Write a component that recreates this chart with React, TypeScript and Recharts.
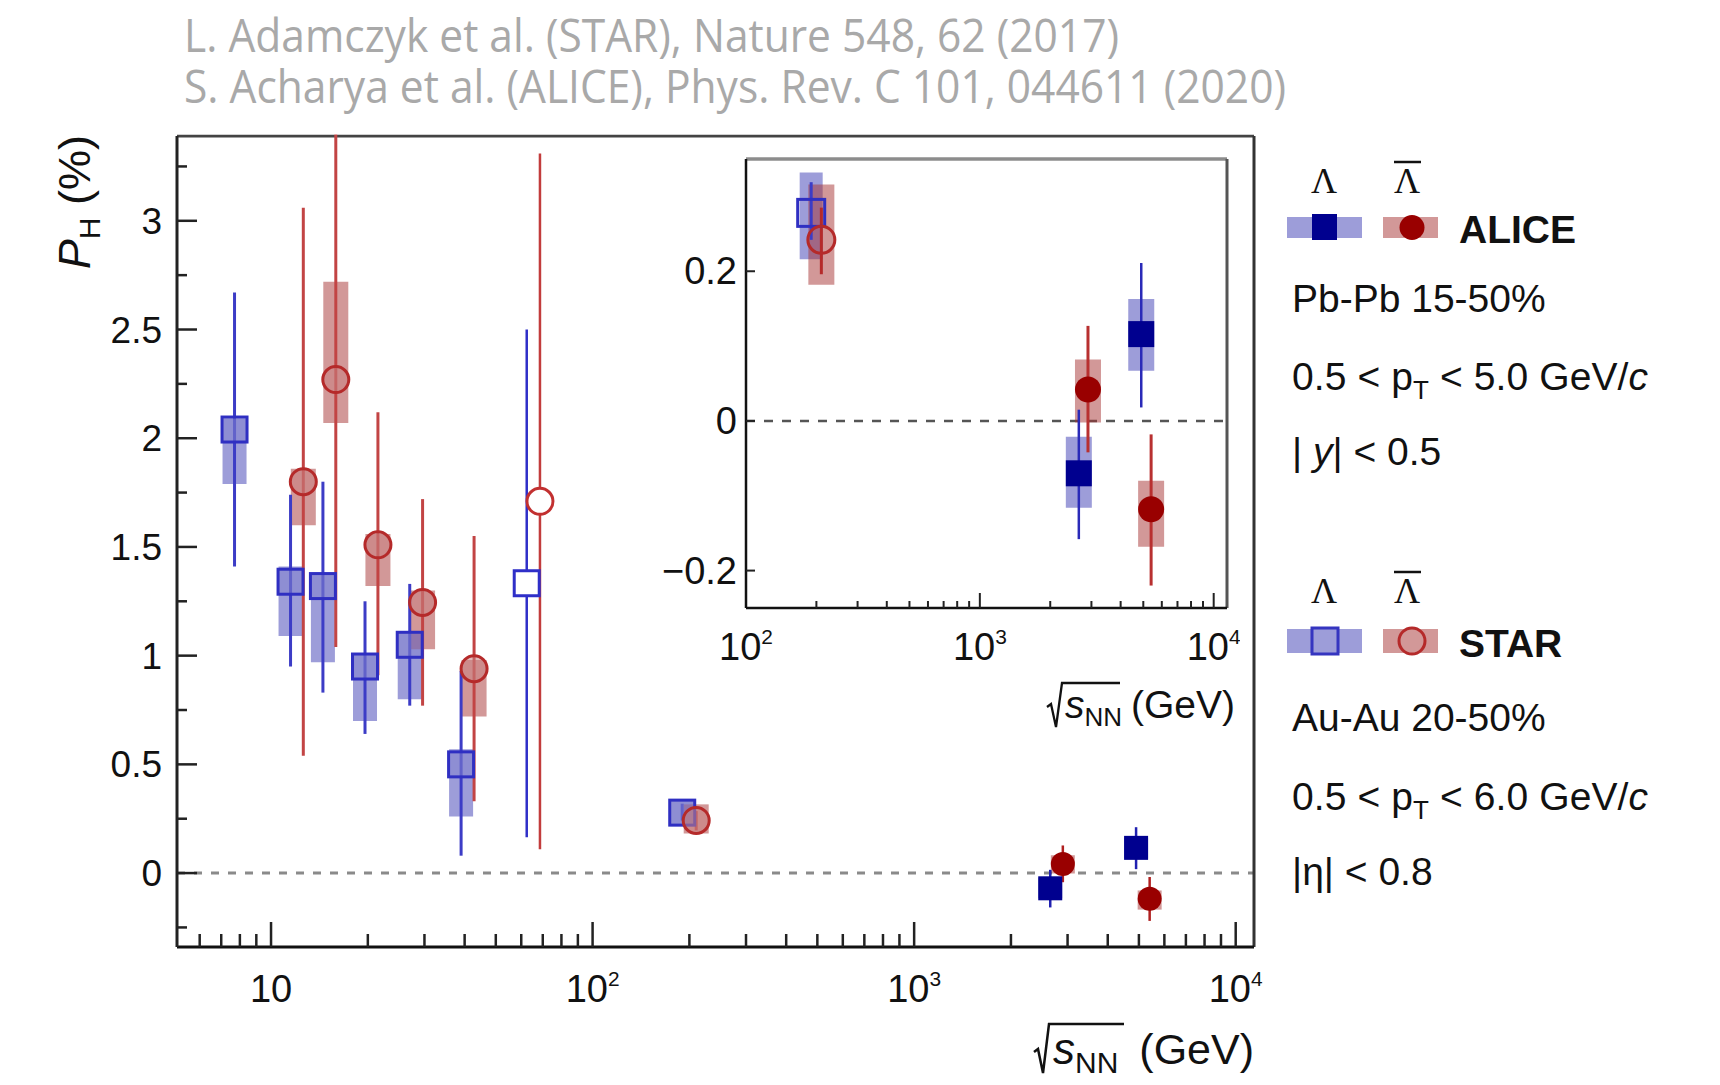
import React from 'react';
import { ScatterChart, Scatter, XAxis, YAxis, ErrorBar, ReferenceLine } from 'recharts';

// STAR, Au-Au 20-50 %  (Lambda)
const starLambdaE = [7.7, 11.5, 14.5, 19.6, 27, 39, 190];
const starLambdaP = [2.04, 1.34, 1.32, 0.95, 1.05, 0.5, 0.278];
const starLambdaStatLo = [1.41, 0.95, 0.83, 0.64, 0.77, 0.08, 0.242];
const starLambdaStatHi = [2.67, 1.74, 1.8, 1.25, 1.33, 0.93, 0.319];
const starLambdaSysLo = [1.79, 1.09, 0.97, 0.7, 0.8, 0.26, 0.216];
const starLambdaSysHi = [2.09, 1.41, 1.38, 1.01, 1.11, 0.57, 0.332];

// STAR anti-Lambda (drawn slightly right of the nominal energy)
const starAntiE = [12.6, 15.9, 21.5, 29.6, 42.8, 210];
const starAntiP = [1.8, 2.27, 1.51, 1.245, 0.94, 0.242];
const starAntiStatLo = [0.54, 1.04, 0.91, 0.77, 0.33, 0.196];
const starAntiStatHi = [3.06, 3.51, 2.12, 1.72, 1.55, 0.285];
const starAntiSysLo = [1.6, 2.07, 1.32, 1.03, 0.72, 0.182];
const starAntiSysHi = [1.86, 2.72, 1.56, 1.3, 0.98, 0.316];

// STAR 62.4 GeV (open markers, no sys box)
const star62LambdaE = [62.4];
const star62LambdaP = [1.333];
const star62LambdaStatLo = [0.165];
const star62LambdaStatHi = [2.5];
const star62AntiE = [68.6];
const star62AntiP = [1.71];
const star62AntiStatLo = [0.11];
const star62AntiStatHi = [3.31];

// ALICE, Pb-Pb 15-50 %
const aliceLambdaE = [2650, 4900];
const aliceLambdaP = [-0.07, 0.116];
const aliceLambdaStatLo = [-0.158, 0.018];
const aliceLambdaStatHi = [0.015, 0.211];
const aliceLambdaSysLo = [-0.116, 0.067];
const aliceLambdaSysHi = [-0.021, 0.163];

const aliceAntiE = [2900, 5400];
const aliceAntiP = [0.042, -0.118];
const aliceAntiStatLo = [-0.042, -0.22];
const aliceAntiStatHi = [0.127, -0.018];
const aliceAntiSysLo = [-0.002, -0.168];
const aliceAntiSysHi = [0.082, -0.08];

// axes
const MAIN_X = [5.1, 11400];
const MAIN_Y = [-0.34, 3.39];
const INSET_X = [100, 11400];
const INSET_Y = [-0.25, 0.35];
const mainXTicks = [6, 7, 8, 9, 10, 20, 30, 40, 50, 60, 70, 80, 90, 100, 200, 300, 400, 500, 600, 700, 800, 900, 1000, 2000, 3000, 4000, 5000, 6000, 7000, 8000, 9000, 10000];
const mainYTicks = [-0.25, 0, 0.25, 0.5, 0.75, 1, 1.25, 1.5, 1.75, 2, 2.25, 2.5, 2.75, 3, 3.25];
const insetXTicks = [100, 200, 300, 400, 500, 600, 700, 800, 900, 1000, 2000, 3000, 4000, 5000, 6000, 7000, 8000, 9000, 10000];
const insetYTicks = [-0.2, 0, 0.2];

const FONT = '"Liberation Sans", Arial, Helvetica, sans-serif';

const toRows = (e: number[], p: number[], lo: number[], hi: number[], sLo?: number[], sHi?: number[]) =>
  e.map((x, i) => ({
    x,
    y: p[i],
    stat: [p[i] - lo[i], hi[i] - p[i]],
    sys: sLo && sHi ? [p[i] - sLo[i], sHi[i] - p[i]] : [0, 0],
  }));

const starLambda = toRows(starLambdaE, starLambdaP, starLambdaStatLo, starLambdaStatHi, starLambdaSysLo, starLambdaSysHi);
const starAnti = toRows(starAntiE, starAntiP, starAntiStatLo, starAntiStatHi, starAntiSysLo, starAntiSysHi);
const star62Lambda = toRows(star62LambdaE, star62LambdaP, star62LambdaStatLo, star62LambdaStatHi);
const star62Anti = toRows(star62AntiE, star62AntiP, star62AntiStatLo, star62AntiStatHi);
const aliceLambda = toRows(aliceLambdaE, aliceLambdaP, aliceLambdaStatLo, aliceLambdaStatHi, aliceLambdaSysLo, aliceLambdaSysHi);
const aliceAnti = toRows(aliceAntiE, aliceAntiP, aliceAntiStatLo, aliceAntiStatHi, aliceAntiSysLo, aliceAntiSysHi);
const insetStarLambda = starLambda.filter((r) => r.x > 100);
const insetStarAnti = starAnti.filter((r) => r.x > 100);

const BLUE_BOX = 'rgba(60,60,180,0.5)';
const RED_BOX = 'rgba(165,50,50,0.5)';

const square = (size: number, fill: string, stroke = 'none', sw = 0) => (p: any) => (
  <rect x={p.cx - size / 2} y={p.cy - size / 2} width={size} height={size} fill={fill} stroke={stroke} strokeWidth={sw} />
);
const circle = (r: number, fill: string, stroke = 'none', sw = 0) => (p: any) => (
  <circle cx={p.cx} cy={p.cy} r={r} fill={fill} stroke={stroke} strokeWidth={sw} />
);
const noShape = () => <g />;

// sys boxes: a thick error bar without caps
const boxSeries = (key: string, data: any[], color: string, w: number) => (
  <Scatter key={key} data={data} shape={noShape} isAnimationActive={false}>
    <ErrorBar dataKey="sys" direction="y" width={0} stroke={color} strokeWidth={w} isAnimationActive={false} />
  </Scatter>
);
const markSeries = (key: string, data: any[], shape: any, color: string, sw: number) => (
  <Scatter key={key} data={data} shape={shape} isAnimationActive={false}>
    <ErrorBar dataKey="stat" direction="y" width={0} stroke={color} strokeWidth={sw} isAnimationActive={false} />
  </Scatter>
);

const isMajorLog = (v: number) => Math.abs(Math.log10(v) - Math.round(Math.log10(v))) < 1e-9;

const PowLabel = ({ x, y, v, fs }: { x: number; y: number; v: number; fs: number }) => {
  const p = Math.round(Math.log10(v));
  return (
    <text x={x} y={y} textAnchor="middle" fontFamily={FONT} fontSize={fs} fill="#111">
      10
      {p > 1 && (
        <tspan fontSize={fs * 0.55} dy={-fs * 0.42}>
          {p}
        </tspan>
      )}
    </text>
  );
};

const MainXTick = (props: any) => {
  const { x, y, payload } = props;
  const v = payload.value;
  const major = isMajorLog(v);
  return (
    <g>
      <line x1={x} x2={x} y1={y} y2={y - (major ? 25 : 13)} stroke="#222" strokeWidth={2.5} />
      {major && <PowLabel x={x} y={y + 55} v={v} fs={38} />}
    </g>
  );
};

const MainYTick = (props: any) => {
  const { x, y, payload } = props;
  const v = payload.value;
  const major = Math.abs(v * 2 - Math.round(v * 2)) < 1e-9;
  return (
    <g>
      <line x1={x} x2={x + (major ? 20 : 10)} y1={y} y2={y} stroke="#222" strokeWidth={2.5} />
      {major && (
        <text x={x - 15} y={y + 13} textAnchor="end" fontFamily={FONT} fontSize={37} fill="#111">
          {String(v)}
        </text>
      )}
    </g>
  );
};

const InsetXTick = (props: any) => {
  const { x, y, payload } = props;
  const v = payload.value;
  const major = isMajorLog(v);
  return (
    <g>
      {v > 100 && <line x1={x} x2={x} y1={y} y2={y - (major ? 15 : 7)} stroke="#222" strokeWidth={2} />}
      {major && <PowLabel x={x} y={y + 52} v={v} fs={38} />}
    </g>
  );
};

const InsetYTick = (props: any) => {
  const { x, y, payload } = props;
  const v = payload.value;
  const label = v < 0 ? '\u2212' + String(-v) : String(v);
  return (
    <g>
      <line x1={x} x2={x + 9} y1={y} y2={y} stroke="#222" strokeWidth={2} />
      <text x={x - 9} y={y + 13} textAnchor="end" fontFamily={FONT} fontSize={38} fill="#111">
        {label}
      </text>
    </g>
  );
};

const LambdaHeads = ({ y }: { y: number }) => (
  <g fontFamily='"Liberation Serif", "DejaVu Serif", serif' fontSize={36} fill="#111">
    <text x={1324} y={y} textAnchor="middle">Λ</text>
    <text x={1407} y={y} textAnchor="middle">Λ</text>
    <line x1={1394} x2={1421} y1={y - 31} y2={y - 31} stroke="#111" strokeWidth={2.5} />
  </g>
);

const PtLine = ({ y, hi }: { y: number; hi: string }) => (
  <text x={1292} y={y} fontFamily={FONT} fontSize={39} fill="#111" textLength={356} lengthAdjust="spacing">
    0.5 &lt; p<tspan fontSize={26} dy={9}>T</tspan>
    <tspan dy={-9}> &lt; {hi} GeV/</tspan>
    <tspan fontStyle="italic">c</tspan>
  </text>
);

const Overlay = () => (
  <svg width={1720} height={1085} style={{ position: 'absolute', left: 0, top: 0, pointerEvents: 'none' }}>
    {/* keep the clipped error bar from running above the frame */}
    <rect x={170} y={0} width={1095} height={134.5} fill="#fff" />

    {/* references */}
    <g fontFamily='"Open Sans", "Noto Sans", sans-serif' fontSize={45} fill="#a9a9a9">
      <text x={184} y={52} textLength={935} lengthAdjust="spacingAndGlyphs">
        L. Adamczyk et al. (STAR), Nature 548, 62 (2017)
      </text>
      <text x={184} y={103} textLength={1102} lengthAdjust="spacingAndGlyphs">
        S. Acharya et al. (ALICE), Phys. Rev. C 101, 044611 (2020)
      </text>
    </g>

    {/* y title */}
    <text x={90} y={135} transform="rotate(-90 90 135)" textAnchor="end" fontFamily={FONT} fontSize={45} fill="#111">
      <tspan fontStyle="italic">P</tspan>
      <tspan fontSize={30} dy={10}>H</tspan>
      <tspan dy={-10}> (%)</tspan>
    </text>

    {/* main x title */}
    <path d="M1034 1052 L1038 1049 L1043 1073 L1049 1024 L1124 1024" fill="none" stroke="#111" strokeWidth={2.5} />
    <text x={1053} y={1064} fontFamily={FONT} fill="#111">
      <tspan fontSize={44} fontStyle="italic">s</tspan>
      <tspan fontSize={30} dy={9}>NN</tspan>
    </text>
    <text x={1254} y={1064} textAnchor="end" fontFamily={FONT} fontSize={43} fill="#111">(GeV)</text>

    {/* inset x title */}
    <path d="M1047 707 L1051 704 L1056 727 L1062 683 L1120 683" fill="none" stroke="#111" strokeWidth={2.3} />
    <text x={1065} y={718} fontFamily={FONT} fill="#111">
      <tspan fontSize={39} fontStyle="italic">s</tspan>
      <tspan fontSize={26} dy={8}>NN</tspan>
    </text>
    <text x={1235} y={718} textAnchor="end" fontFamily={FONT} fontSize={39} fill="#111">(GeV)</text>

    {/* legend ALICE */}
    <LambdaHeads y={193} />
    <rect x={1287} y={217} width={75} height={21} fill={BLUE_BOX} />
    <rect x={1312} y={214} width={25} height={26} fill="#00008f" />
    <rect x={1383} y={217} width={55} height={21} fill={RED_BOX} />
    <circle cx={1412} cy={227.5} r={12.5} fill="#990000" />
    <text x={1459} y={243} fontFamily={FONT} fontSize={39} fontWeight="bold" fill="#111">ALICE</text>
    <text x={1292} y={312} fontFamily={FONT} fontSize={39} fill="#111">Pb-Pb 15-50%</text>
    <PtLine y={390} hi="5.0" />
    <text x={1292} y={465} fontFamily={FONT} fontSize={39} fill="#111">
      | <tspan fontStyle="italic">y</tspan>| &lt; 0.5
    </text>

    {/* legend STAR */}
    <LambdaHeads y={603} />
    <rect x={1287} y={629} width={75} height={24} fill={BLUE_BOX} />
    <rect x={1312} y={628} width={26} height={26} fill="none" stroke="#3535c0" strokeWidth={3} />
    <rect x={1383} y={629} width={55} height={24} fill={RED_BOX} />
    <circle cx={1412} cy={641} r={13} fill="none" stroke="#b52a2a" strokeWidth={3} />
    <text x={1459} y={657} fontFamily={FONT} fontSize={39} fontWeight="bold" fill="#111">STAR</text>
    <text x={1292} y={731} fontFamily={FONT} fontSize={39} fill="#111">Au-Au 20-50%</text>
    <PtLine y={810} hi="6.0" />
    <text x={1292} y={885} fontFamily={FONT} fontSize={39} fill="#111">|η| &lt; 0.8</text>
  </svg>
);

const MainChart = () => (
  <ScatterChart width={1720} height={1085} margin={{ top: 136, right: 466, bottom: 0, left: 0 }}>
    <XAxis
      type="number"
      dataKey="x"
      scale="log"
      domain={MAIN_X}
      allowDataOverflow
      ticks={mainXTicks}
      interval={0}
      height={138}
      tickSize={0}
      tickMargin={0}
      tickLine={false}
      axisLine={{ stroke: '#111', strokeWidth: 3 }}
      tick={MainXTick}
    />
    <YAxis
      type="number"
      dataKey="y"
      domain={MAIN_Y}
      allowDataOverflow
      ticks={mainYTicks}
      interval={0}
      width={177}
      tickSize={0}
      tickMargin={0}
      tickLine={false}
      axisLine={{ stroke: '#222', strokeWidth: 3 }}
      tick={MainYTick}
    />
    <ReferenceLine y={0} stroke="#8a8a8a" strokeWidth={3} strokeDasharray="8 9" />
    <ReferenceLine y={MAIN_Y[1]} stroke="#444" strokeWidth={3} />
    <ReferenceLine x={MAIN_X[1]} stroke="#333" strokeWidth={3} />
    {boxSeries('sl', starLambda, BLUE_BOX, 24)}
    {boxSeries('sa', starAnti, RED_BOX, 25)}
    {boxSeries('al', aliceLambda, BLUE_BOX, 24)}
    {boxSeries('aa', aliceAnti, RED_BOX, 24)}
    {markSeries('sl-m', starLambda, square(25, 'rgba(130,130,205,0.55)', '#2f2fc2', 3), '#3c3cc6', 3)}
    {markSeries('sa-m', starAnti, circle(13, 'rgba(200,130,130,0.55)', '#b52a2a', 3), '#c24444', 3)}
    {markSeries('s62l', star62Lambda, square(25, '#fff', '#2f2fc8', 3), '#2f2fc8', 2.5)}
    {markSeries('s62a', star62Anti, circle(13, '#fff', '#c23030', 3), '#c23c3c', 2.5)}
    {markSeries('al-m', aliceLambda, square(24, '#00008f'), '#2020b0', 2.5)}
    {markSeries('aa-m', aliceAnti, circle(12, '#990000'), '#b02020', 2.5)}
  </ScatterChart>
);

const InsetChart = () => (
  <div style={{ position: 'absolute', left: 640, top: 150, width: 600, height: 580 }}>
    <ScatterChart width={600} height={580} margin={{ top: 9, right: 13, bottom: 0, left: 0 }}>
      <XAxis
        type="number"
        dataKey="x"
        scale="log"
        domain={INSET_X}
        allowDataOverflow
        ticks={insetXTicks}
        interval={0}
        height={122}
        tickSize={0}
        tickMargin={0}
        tickLine={false}
        axisLine={{ stroke: '#111', strokeWidth: 2.5 }}
        tick={InsetXTick}
      />
      <YAxis
        type="number"
        dataKey="y"
        domain={INSET_Y}
        allowDataOverflow
        ticks={insetYTicks}
        interval={0}
        width={106}
        tickSize={0}
        tickMargin={0}
        tickLine={false}
        axisLine={{ stroke: '#111', strokeWidth: 2.5 }}
        tick={InsetYTick}
      />
      <ReferenceLine y={0} stroke="#555" strokeWidth={2.5} strokeDasharray="9 9" />
      <ReferenceLine y={INSET_Y[1]} stroke="#8c8c8c" strokeWidth={3.5} />
      <ReferenceLine x={INSET_X[1]} stroke="#555" strokeWidth={3} />
      {boxSeries('isl', insetStarLambda, BLUE_BOX, 23)}
      {boxSeries('isa', insetStarAnti, RED_BOX, 26)}
      {boxSeries('ial', aliceLambda, BLUE_BOX, 26)}
      {boxSeries('iaa', aliceAnti, RED_BOX, 26)}
      {markSeries('isl-m', insetStarLambda, square(27, 'none', '#2f2fc2', 3), '#3c3cc6', 3)}
      {markSeries('isa-m', insetStarAnti, circle(13.5, 'none', '#b52a2a', 3), '#b52a2a', 3)}
      {markSeries('ial-m', aliceLambda, square(26, '#00008f'), '#2a2ab8', 2.5)}
      {markSeries('iaa-m', aliceAnti, circle(13, '#990000'), '#b83030', 3)}
    </ScatterChart>
  </div>
);

export default function App() {
  return (
    <div style={{ position: 'absolute', left: 0, top: 0, width: 1720, height: 1085, background: '#fff' }}>
      <MainChart />
      <InsetChart />
      <Overlay />
    </div>
  );
}
